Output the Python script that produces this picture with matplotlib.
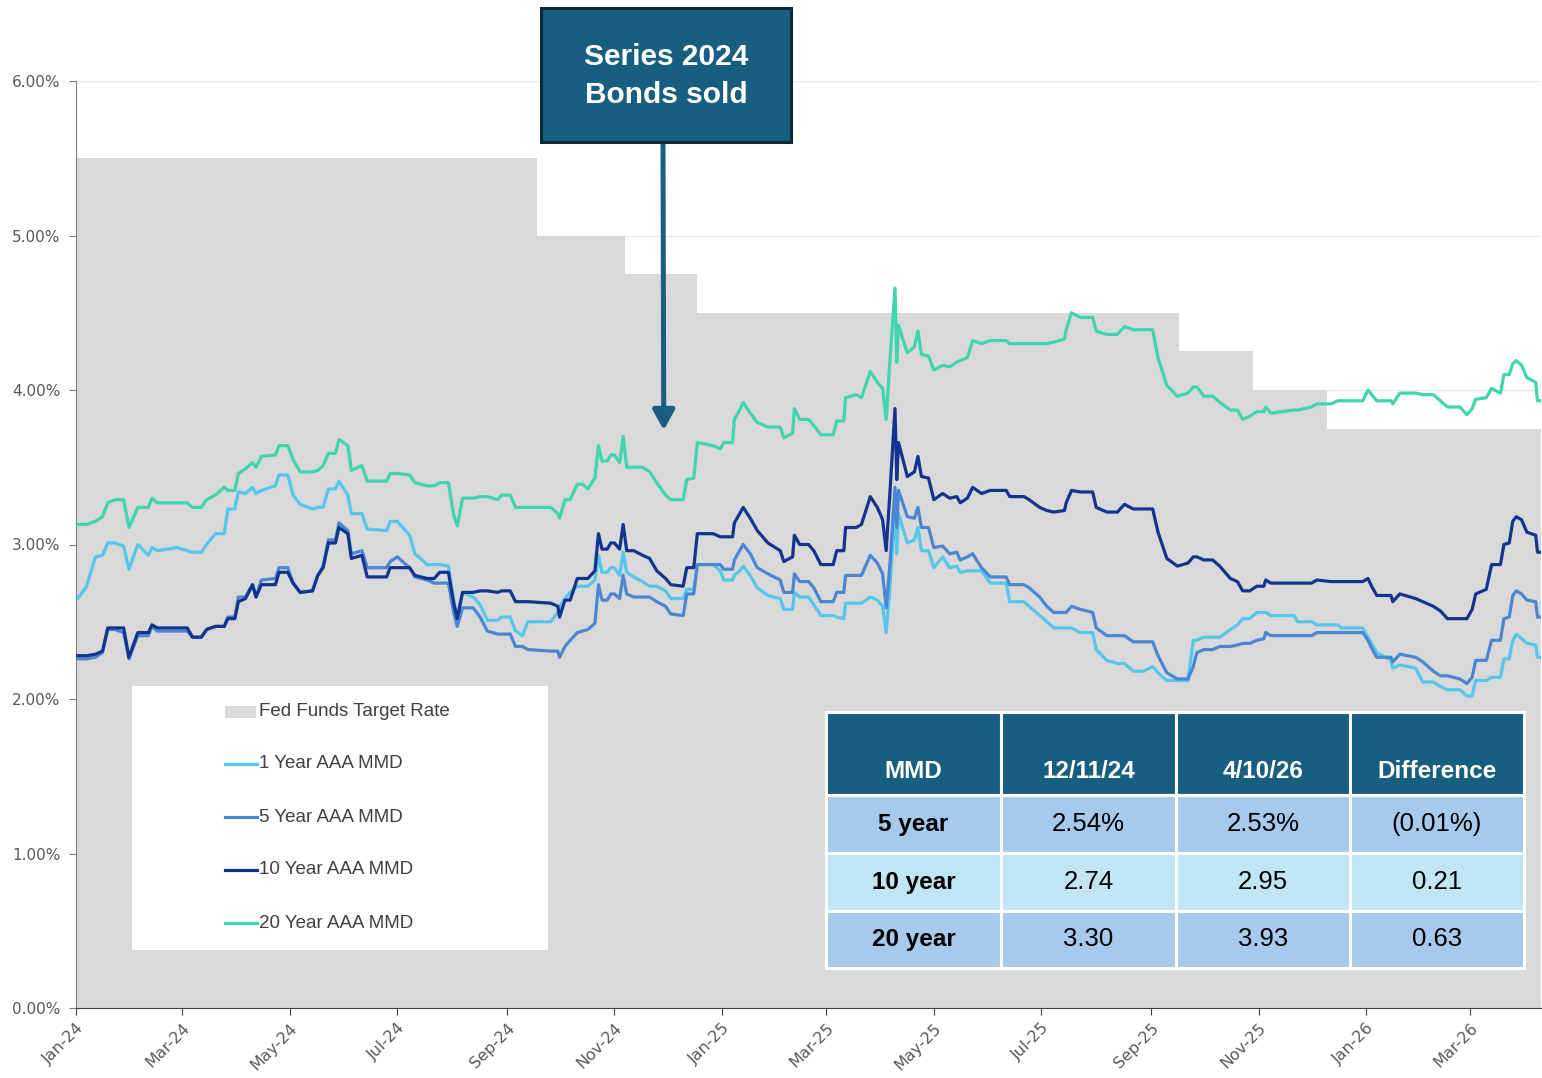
import numpy as np
import matplotlib.pyplot as plt
import matplotlib.dates as mdates
from matplotlib.patches import Rectangle
from matplotlib.lines import Line2D
from matplotlib.ticker import FuncFormatter

W, H = 1542, 1078

# observation days (days since 1 Jan 2024)
obs_day = [
    1, 6, 11, 15, 18, 22, 27, 30, 35, 41,
    43, 46, 57, 63, 66, 71, 74, 79, 84, 86,
    90, 92, 96, 100, 102, 105, 113, 115, 120, 123,
    127, 134, 137, 140, 143, 147, 149, 154, 156, 162,
    165, 176, 178, 182, 189, 192, 199, 203, 206, 211,
    214, 216, 219, 225, 229, 233, 239, 241, 246, 249,
    253, 256, 269, 273, 274, 277, 280, 284, 287, 290,
    294, 296, 298, 301, 303, 305, 308, 310, 312, 316,
    321, 325, 329, 334, 337, 344, 346, 350, 352, 361,
    365, 367, 372, 373, 376, 378, 382, 386, 392, 399,
    401, 406, 407, 410, 415, 418, 422, 429, 431, 435,
    436, 442, 445, 450, 454, 457, 459, 461, 464, 465,
    466, 471, 475, 477, 479, 483, 486, 491, 495, 499,
    501, 505, 508, 513, 518, 527, 529, 537, 540, 546,
    550, 554, 560, 561, 564, 569, 576, 578, 584, 590,
    594, 599, 605, 610, 613, 618, 624, 630, 633, 635,
    639, 644, 648, 654, 658, 661, 665, 669, 673, 674,
    677, 690, 692, 700, 703, 711, 715, 717, 729, 732,
    734, 737, 745, 746, 750, 759, 763, 769, 773, 777,
    784, 788, 791, 793, 799, 802, 807, 809, 812, 814,
    816, 819, 822, 827, 828, 830,
]

one_yr = [
    2.65, 2.73, 2.92, 2.93, 3.01, 3.01, 2.99, 2.84, 3.00, 2.93,
    2.98, 2.96, 2.98, 2.96, 2.95, 2.95, 3.00, 3.07, 3.07, 3.23,
    3.23, 3.34, 3.33, 3.37, 3.33, 3.35, 3.38, 3.45, 3.45, 3.32,
    3.26, 3.23, 3.24, 3.24, 3.36, 3.36, 3.41, 3.32, 3.20, 3.20,
    3.10, 3.09, 3.15, 3.15, 3.06, 2.94, 2.87, 2.87, 2.87, 2.86,
    2.64, 2.53, 2.69, 2.66, 2.61, 2.51, 2.51, 2.53, 2.53, 2.44,
    2.41, 2.50, 2.50, 2.56, 2.60, 2.65, 2.69, 2.73, 2.73, 2.73,
    2.77, 2.93, 2.82, 2.82, 2.85, 2.85, 2.80, 2.95, 2.82, 2.79,
    2.76, 2.73, 2.73, 2.70, 2.65, 2.65, 2.71, 2.71, 2.87, 2.87,
    2.83, 2.77, 2.77, 2.80, 2.83, 2.86, 2.80, 2.72, 2.67, 2.65,
    2.58, 2.58, 2.69, 2.66, 2.66, 2.61, 2.54, 2.54, 2.53, 2.52,
    2.62, 2.62, 2.62, 2.66, 2.64, 2.60, 2.43, 2.70, 3.24, 2.94,
    3.20, 3.01, 3.03, 3.11, 2.96, 2.96, 2.85, 2.92, 2.85, 2.86,
    2.82, 2.83, 2.83, 2.83, 2.75, 2.75, 2.63, 2.63, 2.60, 2.54,
    2.50, 2.46, 2.46, 2.46, 2.46, 2.43, 2.43, 2.32, 2.25, 2.23,
    2.23, 2.18, 2.18, 2.21, 2.17, 2.12, 2.12, 2.12, 2.38, 2.38,
    2.40, 2.40, 2.40, 2.45, 2.48, 2.52, 2.52, 2.56, 2.56, 2.56,
    2.54, 2.54, 2.50, 2.50, 2.48, 2.48, 2.48, 2.46, 2.46, 2.40,
    2.36, 2.30, 2.25, 2.20, 2.22, 2.20, 2.11, 2.11, 2.08, 2.06,
    2.06, 2.02, 2.02, 2.12, 2.12, 2.14, 2.14, 2.26, 2.26, 2.38,
    2.42, 2.39, 2.36, 2.35, 2.27, 2.27,
]

five_yr = [
    2.26, 2.26, 2.27, 2.30, 2.45, 2.45, 2.43, 2.26, 2.41, 2.41,
    2.47, 2.44, 2.44, 2.44, 2.40, 2.40, 2.45, 2.47, 2.47, 2.53,
    2.53, 2.66, 2.66, 2.74, 2.66, 2.77, 2.78, 2.85, 2.85, 2.75,
    2.69, 2.70, 2.80, 2.86, 3.03, 3.03, 3.14, 3.09, 2.94, 2.96,
    2.85, 2.85, 2.89, 2.92, 2.85, 2.79, 2.77, 2.75, 2.75, 2.75,
    2.56, 2.47, 2.59, 2.59, 2.53, 2.44, 2.42, 2.42, 2.42, 2.34,
    2.34, 2.32, 2.31, 2.31, 2.27, 2.34, 2.38, 2.43, 2.44, 2.45,
    2.49, 2.74, 2.64, 2.64, 2.68, 2.68, 2.65, 2.80, 2.68, 2.66,
    2.66, 2.66, 2.63, 2.60, 2.55, 2.54, 2.68, 2.68, 2.87, 2.87,
    2.87, 2.84, 2.84, 2.90, 2.96, 3.00, 2.94, 2.85, 2.81, 2.77,
    2.69, 2.69, 2.81, 2.76, 2.76, 2.72, 2.63, 2.63, 2.69, 2.69,
    2.80, 2.80, 2.80, 2.93, 2.88, 2.81, 2.59, 2.85, 3.37, 3.11,
    3.35, 3.18, 3.17, 3.24, 3.11, 3.11, 2.98, 2.99, 2.94, 2.95,
    2.90, 2.92, 2.94, 2.85, 2.79, 2.79, 2.74, 2.74, 2.72, 2.66,
    2.60, 2.56, 2.56, 2.56, 2.60, 2.58, 2.56, 2.46, 2.41, 2.41,
    2.41, 2.37, 2.37, 2.37, 2.28, 2.17, 2.13, 2.13, 2.21, 2.30,
    2.32, 2.32, 2.34, 2.34, 2.35, 2.36, 2.36, 2.38, 2.39, 2.43,
    2.41, 2.41, 2.41, 2.41, 2.43, 2.43, 2.43, 2.43, 2.43, 2.38,
    2.33, 2.27, 2.27, 2.24, 2.29, 2.27, 2.24, 2.18, 2.15, 2.15,
    2.13, 2.10, 2.14, 2.25, 2.25, 2.38, 2.38, 2.52, 2.53, 2.67,
    2.70, 2.68, 2.64, 2.63, 2.53, 2.53,
]

ten_yr = [
    2.28, 2.28, 2.29, 2.31, 2.46, 2.46, 2.46, 2.27, 2.43, 2.43,
    2.48, 2.46, 2.46, 2.46, 2.40, 2.40, 2.45, 2.47, 2.47, 2.52,
    2.52, 2.63, 2.65, 2.74, 2.66, 2.74, 2.74, 2.82, 2.82, 2.75,
    2.69, 2.70, 2.80, 2.85, 3.01, 3.01, 3.11, 3.07, 2.91, 2.93,
    2.79, 2.79, 2.85, 2.85, 2.85, 2.80, 2.78, 2.78, 2.82, 2.82,
    2.62, 2.52, 2.69, 2.69, 2.70, 2.70, 2.69, 2.70, 2.70, 2.63,
    2.63, 2.63, 2.62, 2.60, 2.53, 2.64, 2.64, 2.78, 2.78, 2.78,
    2.83, 3.07, 2.97, 2.97, 3.01, 3.01, 2.97, 3.13, 2.96, 2.96,
    2.93, 2.91, 2.83, 2.78, 2.74, 2.73, 2.85, 2.85, 3.07, 3.07,
    3.05, 3.05, 3.05, 3.14, 3.20, 3.24, 3.17, 3.09, 3.01, 2.96,
    2.89, 2.92, 3.06, 3.00, 3.00, 2.96, 2.87, 2.87, 2.96, 2.96,
    3.11, 3.11, 3.13, 3.31, 3.24, 3.16, 2.96, 3.31, 3.88, 3.42,
    3.66, 3.44, 3.47, 3.57, 3.44, 3.43, 3.29, 3.33, 3.30, 3.31,
    3.27, 3.30, 3.37, 3.33, 3.35, 3.35, 3.31, 3.31, 3.29, 3.24,
    3.22, 3.21, 3.22, 3.27, 3.35, 3.34, 3.34, 3.24, 3.21, 3.21,
    3.26, 3.23, 3.23, 3.23, 3.08, 2.91, 2.86, 2.88, 2.92, 2.92,
    2.90, 2.90, 2.86, 2.78, 2.76, 2.70, 2.70, 2.73, 2.73, 2.77,
    2.75, 2.75, 2.75, 2.75, 2.77, 2.76, 2.76, 2.76, 2.76, 2.78,
    2.73, 2.67, 2.67, 2.63, 2.68, 2.65, 2.63, 2.60, 2.57, 2.52,
    2.52, 2.52, 2.58, 2.68, 2.71, 2.87, 2.87, 3.00, 3.01, 3.15,
    3.18, 3.16, 3.08, 3.06, 2.95, 2.95,
]

twenty_yr = [
    3.13, 3.13, 3.15, 3.18, 3.27, 3.29, 3.29, 3.11, 3.24, 3.24,
    3.30, 3.27, 3.27, 3.27, 3.24, 3.24, 3.29, 3.32, 3.37, 3.35,
    3.35, 3.46, 3.49, 3.53, 3.50, 3.57, 3.58, 3.64, 3.64, 3.55,
    3.47, 3.47, 3.48, 3.51, 3.59, 3.59, 3.68, 3.64, 3.48, 3.51,
    3.41, 3.41, 3.46, 3.46, 3.45, 3.40, 3.38, 3.38, 3.40, 3.40,
    3.19, 3.12, 3.30, 3.30, 3.31, 3.31, 3.29, 3.32, 3.32, 3.24,
    3.24, 3.24, 3.24, 3.20, 3.17, 3.29, 3.29, 3.39, 3.39, 3.36,
    3.43, 3.64, 3.54, 3.54, 3.58, 3.58, 3.53, 3.70, 3.50, 3.50,
    3.50, 3.47, 3.40, 3.32, 3.29, 3.29, 3.42, 3.43, 3.66, 3.64,
    3.62, 3.66, 3.66, 3.81, 3.87, 3.92, 3.85, 3.79, 3.76, 3.76,
    3.69, 3.72, 3.88, 3.81, 3.81, 3.77, 3.71, 3.71, 3.80, 3.80,
    3.95, 3.97, 3.95, 4.12, 4.05, 4.01, 3.81, 4.17, 4.66, 4.18,
    4.42, 4.24, 4.28, 4.38, 4.23, 4.22, 4.13, 4.16, 4.15, 4.18,
    4.19, 4.21, 4.32, 4.30, 4.32, 4.32, 4.30, 4.30, 4.30, 4.30,
    4.30, 4.31, 4.33, 4.39, 4.50, 4.47, 4.47, 4.38, 4.36, 4.36,
    4.41, 4.39, 4.39, 4.39, 4.21, 4.03, 3.96, 3.98, 4.02, 4.02,
    3.96, 3.96, 3.92, 3.87, 3.87, 3.81, 3.83, 3.86, 3.86, 3.89,
    3.85, 3.87, 3.87, 3.89, 3.91, 3.91, 3.93, 3.93, 3.93, 4.00,
    3.97, 3.93, 3.93, 3.91, 3.98, 3.98, 3.97, 3.97, 3.93, 3.89,
    3.89, 3.84, 3.88, 3.94, 3.95, 4.01, 3.98, 4.10, 4.10, 4.17,
    4.19, 4.16, 4.08, 4.05, 3.93, 3.93,
]

fed_dates = ["2024-01-01", "2024-09-18", "2024-11-07", "2024-12-18",
             "2025-09-17", "2025-10-29", "2025-12-10", "2026-04-10"]
fed_rates = [5.50, 5.00, 4.75, 4.50, 4.25, 4.00, 3.75, 3.75]

# table
tbl_header = ["MMD", "12/11/24", "4/10/26", "Difference"]
tbl_rows = ["5 year", "10 year", "20 year"]
mmd_then = [2.54, 2.74, 3.30]
mmd_now = [2.53, 2.95, 3.93]

series = [
    ("1 Year AAA MMD", one_yr, "#55c6ec"),
    ("5 Year AAA MMD", five_yr, "#4a86d2"),
    ("10 Year AAA MMD", ten_yr, "#12348f"),
    ("20 Year AAA MMD", twenty_yr, "#3fd5ae"),
]

TEAL = "#175e80"
dates = np.datetime64("2024-01-01") + np.array(obs_day).astype("timedelta64[D]")
fd = np.array(fed_dates, dtype="datetime64[D]")


def fx(px):
    return px / W


def fy(py):
    return 1 - py / H


fig = plt.figure(figsize=(W / 100, H / 100), dpi=100)
ax = fig.add_axes([fx(76), fy(1008), fx(1541) - fx(76), fy(81) - fy(1008)])

for v in range(1, 7):
    ax.axhline(v, color="#ebebeb", lw=1, zorder=0)
ax.fill_between(fd, fed_rates, step="post", color="#d9d9d9", lw=0, zorder=1)

for name, vals, col in series:
    ax.plot(dates, vals, color=col, lw=2.3, zorder=3, solid_joinstyle="round")

ax.set_xlim(np.datetime64("2024-01-01"), np.datetime64("2026-04-10"))
ax.set_ylim(0, 6)
ax.yaxis.set_major_formatter(FuncFormatter(lambda v, p: f"{v:.2f}%"))
ax.xaxis.set_major_locator(mdates.MonthLocator(bymonth=[1, 3, 5, 7, 9, 11]))
ax.xaxis.set_major_formatter(mdates.DateFormatter("%b-%y"))
for s in ["top", "right"]:
    ax.spines[s].set_visible(False)
ax.spines["left"].set_color("#7f7f7f")
ax.spines["bottom"].set_color("#404040")
ax.tick_params(axis="y", length=5, color="#7f7f7f", labelsize=11,
               labelcolor="#595959", pad=6)
ax.tick_params(axis="x", length=5, color="#404040", labelsize=11.5,
               labelcolor="#595959", pad=4)
for lab in ax.get_xticklabels():
    lab.set_rotation(45)
    lab.set_ha("right")
    lab.set_rotation_mode("anchor")

# annotation box + arrow
fig.patches.append(Rectangle((fx(541), fy(142)), fx(791) - fx(541), fy(8) - fy(142),
                             transform=fig.transFigure, facecolor=TEAL,
                             edgecolor="#0d2a3b", lw=2.2, zorder=5))
fig.text(fx(666), fy(76), "Series 2024\nBonds sold", color="white",
         fontsize=21.5, fontweight="bold", ha="center", va="center",
         family="Liberation Sans", linespacing=1.45, zorder=6)
ax.annotate("", xy=(np.datetime64("2024-11-29"), 3.74), xycoords="data",
            xytext=(fx(663), fy(143)), textcoords="figure fraction",
            arrowprops=dict(arrowstyle="-|>,head_length=0.6,head_width=0.33",
                            color=TEAL, lw=3.6, mutation_scale=20,
                            shrinkA=0, shrinkB=0), zorder=4)

# legend
fig.patches.append(Rectangle((fx(132), fy(950)), fx(548) - fx(132), fy(686) - fy(950),
                             transform=fig.transFigure, facecolor="white",
                             edgecolor="none", zorder=5))
leg_y = [712, 764, 817, 870, 923]
fig.patches.append(Rectangle((fx(225), fy(718)), fx(256) - fx(225), fy(706) - fy(718),
                             transform=fig.transFigure, facecolor="#d9d9d9",
                             edgecolor="none", zorder=6))
fig.text(fx(259), fy(leg_y[0]), "Fed Funds Target Rate", fontsize=13.5,
         color="#404040", va="center", family="Liberation Sans", zorder=6)
for (name, vals, col), yy in zip(series, leg_y[1:]):
    fig.lines.append(Line2D([fx(225), fx(257)], [fy(yy), fy(yy)], color=col,
                            lw=2.3, transform=fig.transFigure, zorder=6))
    fig.text(fx(259), fy(yy), name, fontsize=13.5, color="#404040",
             va="center", family="Liberation Sans", zorder=6)

# table
col_x = [826, 1001, 1176, 1350, 1524]
row_y = [712, 795, 853, 911, 968]
row_fill = ["#a7c9ec", "#c2e5f5", "#a7c9ec"]
diffs = [n - t for n, t in zip(mmd_now, mmd_then)]


def fmt(v, pct):
    s = f"{abs(v):.2f}" + ("%" if pct else "")
    return f"({s})" if v < -0.0001 else s


for j in range(4):
    fig.patches.append(Rectangle((fx(col_x[j]), fy(row_y[1])),
                                 fx(col_x[j + 1]) - fx(col_x[j]), fy(row_y[0]) - fy(row_y[1]),
                                 transform=fig.transFigure, facecolor=TEAL,
                                 edgecolor="white", lw=2.2, zorder=5))
    fig.text(fx((col_x[j] + col_x[j + 1]) / 2), fy(771), tbl_header[j], color="white",
             fontsize=17.5, fontweight="bold", ha="center", va="center",
             family="Liberation Sans", zorder=6)

for i, lab in enumerate(tbl_rows):
    pct = i == 0
    cells = [lab, fmt(mmd_then[i], pct), fmt(mmd_now[i], pct), fmt(diffs[i], pct)]
    yc = (row_y[i + 1] + row_y[i + 2]) / 2
    for j in range(4):
        fig.patches.append(Rectangle((fx(col_x[j]), fy(row_y[i + 2])),
                                     fx(col_x[j + 1]) - fx(col_x[j]),
                                     fy(row_y[i + 1]) - fy(row_y[i + 2]),
                                     transform=fig.transFigure, facecolor=row_fill[i],
                                     edgecolor="white", lw=2.2, zorder=5))
        fig.text(fx((col_x[j] + col_x[j + 1]) / 2), fy(yc), cells[j], color="black",
                 fontsize=18.5 if j else 17.5, fontweight="bold" if j == 0 else "normal",
                 ha="center", va="center", family="Liberation Sans", zorder=6)

fig.savefig("out.png", dpi=100, facecolor="white")
